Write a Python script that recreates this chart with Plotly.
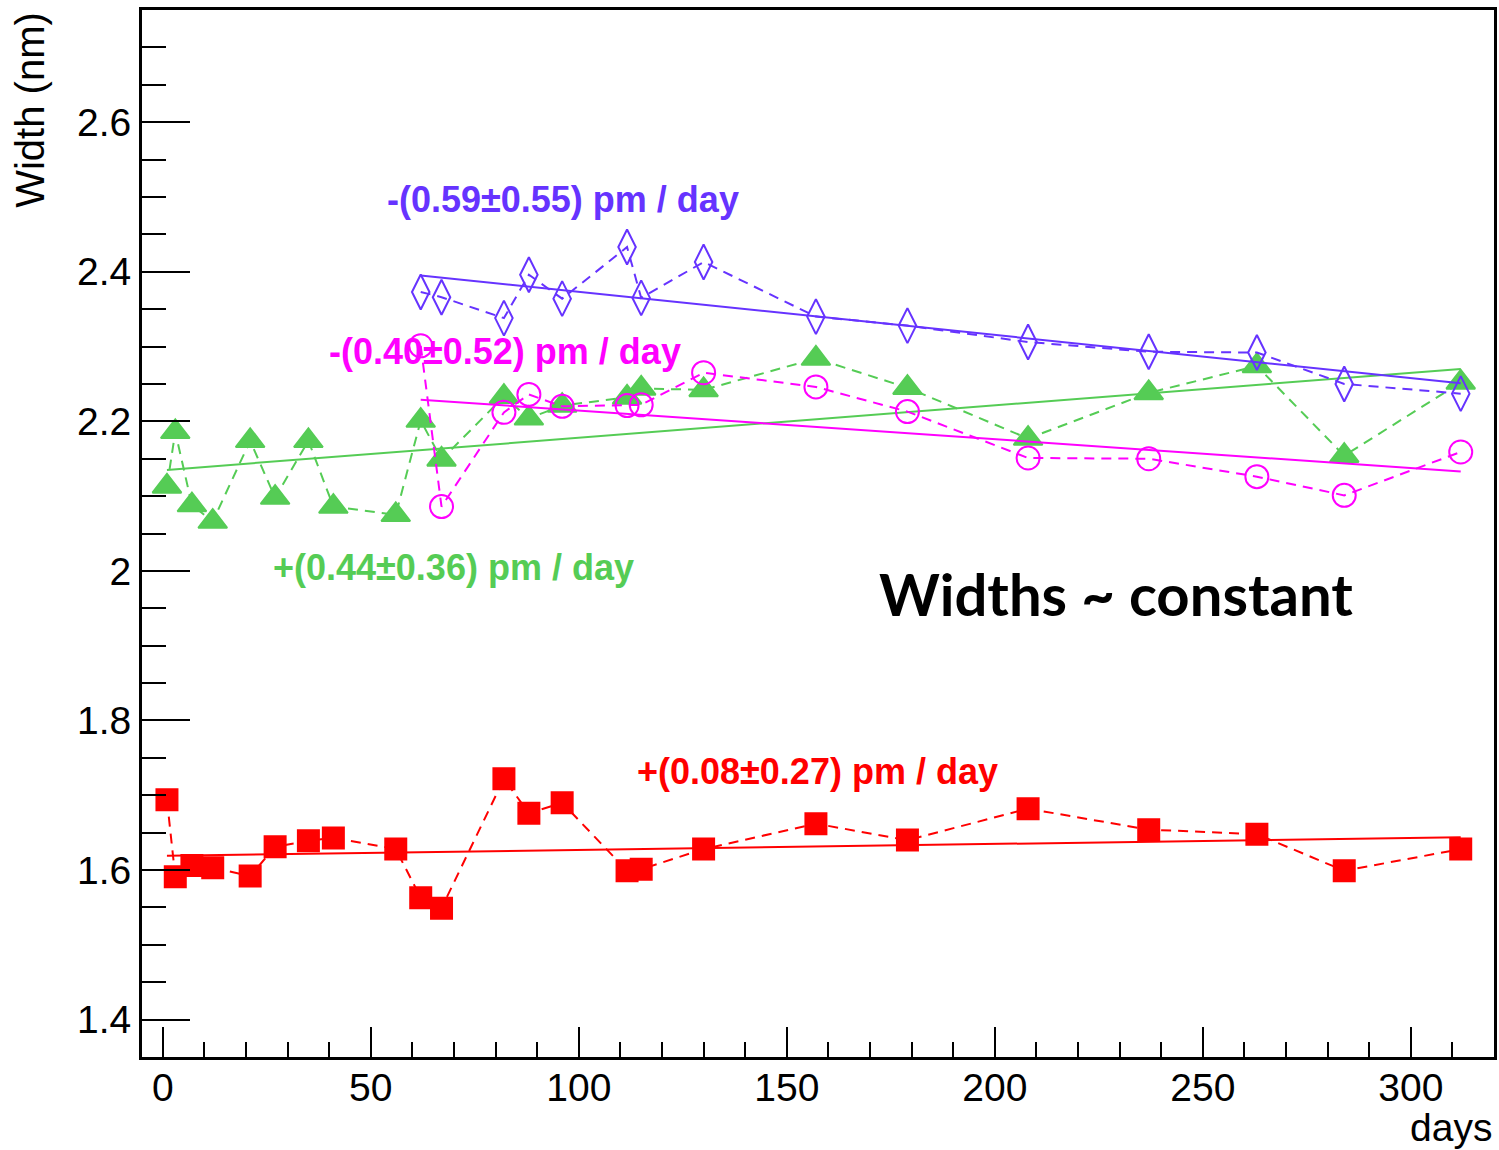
import numpy as np
import plotly.graph_objects as go

# ---------------- data ----------------
days_all = [1, 3, 7, 12, 21, 27, 35, 41, 56, 62, 67, 82, 88, 96, 111.6, 115,
            130, 157, 179, 208, 237, 263, 284, 312]
days_late = [62, 67, 82, 88, 96, 111.6, 115, 130, 157, 179, 208, 237, 263, 284, 312]

red_w = [1.694, 1.591, 1.606, 1.603, 1.592, 1.631, 1.639, 1.643, 1.628, 1.563,
         1.549, 1.722, 1.676, 1.690, 1.599, 1.601, 1.628, 1.662, 1.640, 1.682,
         1.654, 1.648, 1.599, 1.628]
green_w = [2.113, 2.186, 2.088, 2.066, 2.174, 2.098, 2.174, 2.086, 2.075, 2.201,
           2.149, 2.233, 2.204, 2.221, 2.232, 2.244, 2.242, 2.284, 2.245, 2.177,
           2.238, 2.274, 2.154, 2.252]
magenta_w = [2.301, 2.086, 2.212, 2.236, 2.220, 2.221, 2.222, 2.265, 2.246, 2.213,
             2.151, 2.150, 2.126, 2.101, 2.159]
blue_w = [2.373, 2.366, 2.338, 2.396, 2.364, 2.433, 2.365, 2.413, 2.340, 2.328,
          2.306, 2.293, 2.292, 2.250, 2.237]

# linear fits: intercept (nm at day 0), slope (nm/day), fit range
fit_red = (1.6189, 0.00008, 1, 312)
fit_green = (2.1346, 0.000434, 1, 312)
fit_magenta = (2.2528, -0.000384, 62, 312)
fit_blue = (2.4307, -0.000576, 62, 312)

labels = {
    "blue": "-(0.59±0.55) pm / day",
    "magenta": "-(0.40±0.52) pm / day",
    "green": "+(0.44±0.36) pm / day",
    "red": "+(0.08±0.27) pm / day",
}
label_pos = {"blue": (96.3, 2.497), "magenta": (82.3, 2.294),
             "green": (69.9, 2.005), "red": (157.3, 1.732)}

x_ticks = [0, 50, 100, 150, 200, 250, 300]
y_ticks = [1.4, 1.6, 1.8, 2.0, 2.2, 2.4, 2.6]

# ---------------- figure ----------------
RED = "#ff0000"
GREEN = "#55cc55"
MAGENTA = "#ff00ff"
BLUE = "#6633ff"

fig = go.Figure()


def add_series(x, y, color, symbol, size, fit, line_w=2):
    a, b, x0, x1 = fit
    xf = np.array([x0, x1], dtype=float)
    fig.add_trace(go.Scatter(x=xf, y=a + b * xf, mode="lines",
                             line=dict(color=color, width=2), showlegend=False,
                             hoverinfo="skip"))
    fig.add_trace(go.Scatter(x=x, y=y, mode="lines+markers",
                             line=dict(color=color, width=2, dash="10px,7px"),
                             marker=dict(symbol=symbol, size=size, color=color,
                                         line=dict(color=color, width=line_w)),
                             showlegend=False))


add_series(days_all, red_w, RED, "square", 21, fit_red)
add_series(days_all, green_w, GREEN, "triangle-up", 25, fit_green)
add_series(days_late, magenta_w, MAGENTA, "circle-open", 23, fit_magenta)
add_series(days_late, blue_w, BLUE, "diamond-tall-open", 25, fit_blue)

colors = {"blue": BLUE, "magenta": MAGENTA, "green": GREEN, "red": RED}
for k, txt in labels.items():
    x, y = label_pos[k]
    fig.add_annotation(x=x, y=y, text=f"<b>{txt}</b>", showarrow=False,
                       xanchor="center", yanchor="middle",
                       font=dict(family="Liberation Sans", size=36, color=colors[k]))

fig.add_annotation(x=229.1, y=1.97, text="<b>Widths ~ constant</b>", showarrow=False,
                   xanchor="center", yanchor="middle",
                   font=dict(family="Lato", size=58, color="black"))

fig.add_annotation(xref="paper", yref="paper", x=-0.083, y=1.0, text="Width (nm)",
                   textangle=-90, showarrow=False, xanchor="center", yanchor="top",
                   font=dict(family="Liberation Sans", size=40, color="black"))
fig.add_annotation(xref="paper", yref="paper", x=1.0, y=-0.067, text="days",
                   showarrow=False, xanchor="right", yanchor="middle",
                   font=dict(family="Liberation Sans", size=39, color="black"))

fig.update_layout(
    width=1499, height=1150,
    margin=dict(l=142, r=2, t=10, b=93),
    plot_bgcolor="white", paper_bgcolor="white",
    showlegend=False,
)
fig.update_xaxes(
    range=[-5, 320], tickvals=x_ticks, ticktext=[str(v) for v in x_ticks],
    showgrid=False, zeroline=False,
    showline=True, linecolor="black", linewidth=3, mirror=True,
    ticks="inside", ticklen=30, tickwidth=2, tickcolor="black",
    minor=dict(dtick=10, tick0=0, ticks="inside", ticklen=15, tickwidth=2,
               tickcolor="black", showgrid=False),
    tickfont=dict(family="Liberation Sans", size=39, color="black"),
    ticklabelstandoff=-6,
)
fig.update_yaxes(
    range=[1.35, 2.75], tickvals=y_ticks,
    ticktext=["1.4", "1.6", "1.8", "2", "2.2", "2.4", "2.6"],
    showgrid=False, zeroline=False,
    showline=True, linecolor="black", linewidth=3, mirror=True,
    ticks="inside", ticklen=48, tickwidth=2, tickcolor="black",
    minor=dict(dtick=0.05, tick0=1.4, ticks="inside", ticklen=24, tickwidth=2,
               tickcolor="black", showgrid=False),
    tickfont=dict(family="Liberation Sans", size=39, color="black"),
    ticklabelstandoff=0,
)

fig.write_html("out.html")
